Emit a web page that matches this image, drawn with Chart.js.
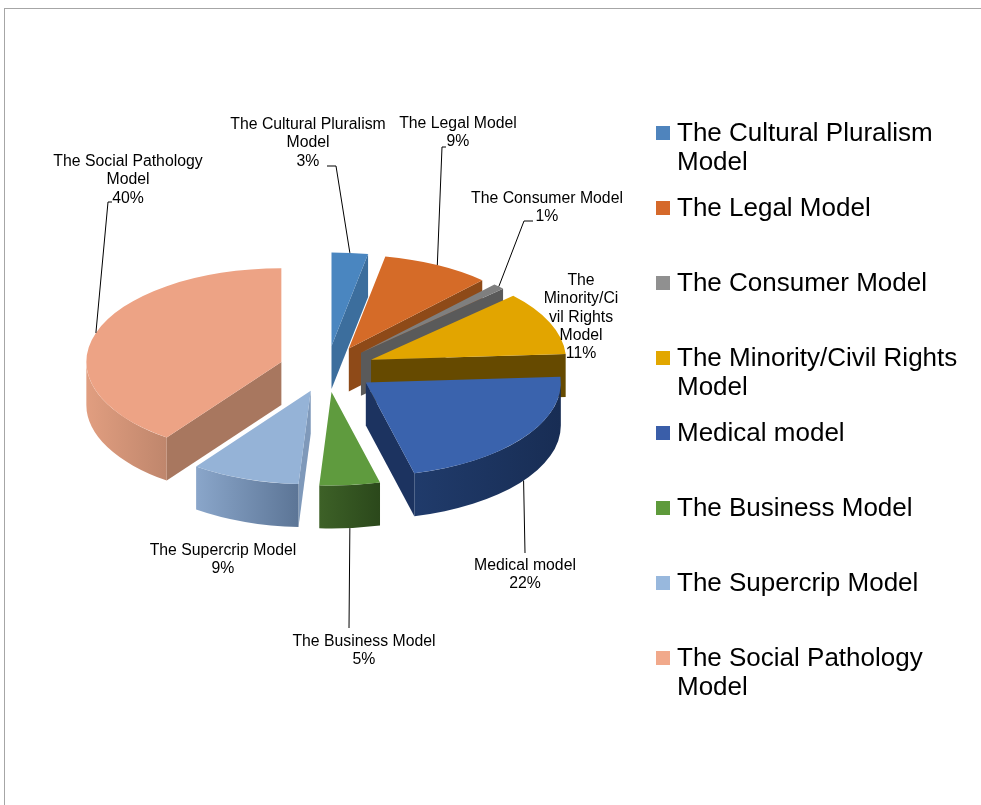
<!DOCTYPE html>
<html>
<head>
<meta charset="utf-8">
<script src="https://cdn.jsdelivr.net/npm/chart.js@4.4.1/dist/chart.umd.min.js"></script>
<style>
  html, body { margin: 0; padding: 0; background: #fff; overflow: hidden; }
  #wrap { position: relative; width: 981px; height: 805px; }
  #frame {
    position: absolute; left: 4px; top: 8px; width: 1000px; height: 820px;
    border: 1px solid #a6a6a6; box-sizing: border-box;
  }
  #pie { position: absolute; left: 0; top: 0; }
  #legend { position: absolute; left: 656px; top: 118px; font-family: "Liberation Sans", Arial, sans-serif; }
  .item { position: absolute; left: 0; width: 330px; height: 75px; }
  .swatch { position: absolute; left: 0; top: 8px; width: 14px; height: 14px; }
  .text { position: absolute; left: 21px; top: 0; width: 300px; font-size: 26px; line-height: 29px; color: #000; }
</style>
</head>
<body>
<div id="wrap">
  <div id="frame"></div>
  <canvas id="pie" width="981" height="805"></canvas>
  <div id="legend"></div>
</div>
<script>
// categories and their shares (percent)
const categories = [
  "The Cultural Pluralism Model",
  "The Legal Model",
  "The Consumer Model",
  "The Minority/Civil Rights Model",
  "Medical model",
  "The Business Model",
  "The Supercrip Model",
  "The Social Pathology Model",
];
const shares = [3, 9, 1, 11, 22, 5, 9, 40];

// colours: top face, outer wall (light -> dark), cut face, legend swatch
const topColors = ["#4a86c0", "#d56b28", "#7f7f7f", "#e2a500", "#3a63ad", "#5f9b3e", "#95b3d7", "#eda385"];
const wallLight = ["#3a6c9c", "#9a5220", "#5f5f5f", "#6e5000", "#203b6b", "#3d6127", "#8aa6ca", "#e19e80"];
const wallDark  = ["#2f5a85", "#7e4116", "#4d4d4d", "#5a4100", "#182d54", "#2b481b", "#5c7596", "#bf866c"];
const cutColors = ["#3c6e9d", "#8e4a18", "#5a5a5a", "#664a00", "#1c3360", "#355722", "#7f99ba", "#a8775f"];
const legendColors = ["#4f84bd", "#d5692b", "#909090", "#e2a700", "#3a5ea9", "#5e9a3b", "#98b8dd", "#f1a98b"];

// label placement: text centre x, first baseline y, wrap width, leader points (text side)
const labelLayout = [
  { x: 308, y: 129, w: 160, leader: [[327, 166], [336, 166]] },
  { x: 458, y: 128, w: 160, leader: [[446, 147], [442, 147]] },
  { x: 547, y: 203, w: 160, leader: [[533, 221], [524, 221]] },
  { x: 581, y: 285, w: 78, leader: null },
  { x: 525, y: 570, w: 160, leader: [[525, 553]] },
  { x: 364, y: 646, w: 160, leader: [[349, 628]] },
  { x: 223, y: 555, w: 160, leader: null },
  { x: 128, y: 166, w: 160, leader: [[112, 202], [108, 202]] },
];

const TILT = 0.48;
const DEPTH = 43;
const EXPLODE = 48;
const LABEL_FONT = "15.8px 'Liberation Sans', Arial, sans-serif";
const LINE_H = 18.3;

function sliceGeom(arc) {
  const mid = (arc.startAngle + arc.endAngle) / 2;
  return {
    x: arc.x + Math.cos(mid) * EXPLODE,
    y: arc.y + Math.sin(mid) * EXPLODE * TILT,
    r: arc.outerRadius,
    a0: arc.startAngle,
    a1: arc.endAngle,
    mid,
  };
}

function proj(g, ang, dy) {
  return [g.x + g.r * Math.cos(ang), g.y + g.r * Math.sin(ang) * TILT + (dy || 0)];
}

function cutFace(ctx, g, ang, color) {
  const p = proj(g, ang);
  ctx.beginPath();
  ctx.moveTo(g.x, g.y);
  ctx.lineTo(p[0], p[1]);
  ctx.lineTo(p[0], p[1] + DEPTH);
  ctx.lineTo(g.x, g.y + DEPTH);
  ctx.closePath();
  ctx.fillStyle = color;
  ctx.fill();
}

function outerWall(ctx, g, i) {
  const a = Math.max(g.a0, 0);
  const b = Math.min(g.a1, Math.PI);
  if (b <= a) return;
  const pa = proj(g, a);
  const pb = proj(g, b);
  const left = Math.min(pa[0], pb[0]);
  const right = Math.max(pa[0], pb[0]);
  const grad = ctx.createLinearGradient(left, 0, right, 0);
  grad.addColorStop(0, wallLight[i]);
  grad.addColorStop(1, wallDark[i]);
  ctx.beginPath();
  ctx.ellipse(g.x, g.y, g.r, g.r * TILT, 0, a, b, false);
  ctx.ellipse(g.x, g.y + DEPTH, g.r, g.r * TILT, 0, b, a, true);
  ctx.closePath();
  ctx.fillStyle = grad;
  ctx.fill();
}

const pie3dPlugin = {
  id: "pie3d",
  beforeDatasetsDraw(chart) {
    const ctx = chart.ctx;
    const arcs = chart.getDatasetMeta(0).data;
    const order = arcs.map((arc, i) => i).sort((p, q) => {
      const mp = (arcs[p].startAngle + arcs[p].endAngle) / 2;
      const mq = (arcs[q].startAngle + arcs[q].endAngle) / 2;
      return Math.sin(mp) - Math.sin(mq);
    });
    order.forEach((i) => {
      const arc = arcs[i];
      const g = sliceGeom(arc);
      if (Math.cos(g.a0) < 0) cutFace(ctx, g, g.a0, cutColors[i]);
      if (Math.cos(g.a1) > 0) cutFace(ctx, g, g.a1, cutColors[i]);
      outerWall(ctx, g, i);
      // top face drawn by the arc element itself, squashed into an ellipse
      ctx.save();
      ctx.translate(arc.x, arc.y);
      ctx.scale(1, TILT);
      ctx.translate(-arc.x, -arc.y);
      ctx.translate(Math.cos(g.mid) * EXPLODE, Math.sin(g.mid) * EXPLODE);
      arc.draw(ctx);
      ctx.restore();
    });
    return false;
  },
};

function wrapText(ctx, text, maxW) {
  const words = text.split(" ");
  const lines = [];
  let cur = "";
  for (const w of words) {
    const test = cur ? cur + " " + w : w;
    if (ctx.measureText(test).width <= maxW) {
      cur = test;
      continue;
    }
    if (cur) lines.push(cur);
    let word = w;
    while (ctx.measureText(word).width > maxW) {
      let n = word.length;
      while (n > 1 && ctx.measureText(word.slice(0, n)).width > maxW) n--;
      lines.push(word.slice(0, n));
      word = word.slice(n);
    }
    cur = word;
  }
  if (cur) lines.push(cur);
  return lines;
}

const sliceLabelsPlugin = {
  id: "sliceLabels",
  afterDraw(chart) {
    const ctx = chart.ctx;
    const arcs = chart.getDatasetMeta(0).data;
    const values = chart.data.datasets[0].data;
    const total = values.reduce((s, v) => s + v, 0);
    ctx.save();
    ctx.font = LABEL_FONT;
    ctx.fillStyle = "#000";
    ctx.strokeStyle = "#000";
    ctx.lineWidth = 1;
    ctx.textAlign = "center";
    ctx.textBaseline = "alphabetic";
    arcs.forEach((arc, i) => {
      const lay = labelLayout[i];
      const g = sliceGeom(arc);
      if (lay.leader) {
        const anchor = proj(g, g.mid, Math.sin(g.mid) > 0 ? DEPTH : 0);
        ctx.beginPath();
        ctx.moveTo(lay.leader[0][0], lay.leader[0][1]);
        for (let k = 1; k < lay.leader.length; k++) ctx.lineTo(lay.leader[k][0], lay.leader[k][1]);
        ctx.lineTo(anchor[0], anchor[1]);
        ctx.stroke();
      }
      const lines = wrapText(ctx, chart.data.labels[i], lay.w);
      lines.push(Math.round((values[i] / total) * 100) + "%");
      lines.forEach((line, k) => ctx.fillText(line, lay.x, lay.y + k * LINE_H));
    });
    ctx.restore();
  },
};

function buildLegend(chart) {
  const box = document.getElementById("legend");
  box.innerHTML = "";
  chart.data.labels.forEach((label, i) => {
    const item = document.createElement("div");
    item.className = "item";
    item.style.top = i * 75 + "px";
    const sw = document.createElement("div");
    sw.className = "swatch";
    sw.style.background = legendColors[i];
    const txt = document.createElement("div");
    txt.className = "text";
    txt.textContent = label;
    item.appendChild(sw);
    item.appendChild(txt);
    box.appendChild(item);
  });
}

const chart = new Chart(document.getElementById("pie"), {
  type: "pie",
  data: {
    labels: categories,
    datasets: [
      {
        data: shares,
        backgroundColor: topColors,
        borderWidth: 0,
        offset: 0,
      },
    ],
  },
  plugins: [pie3dPlugin, sliceLabelsPlugin],
  options: {
    responsive: false,
    animation: false,
    events: [],
    radius: 195,
    layout: { padding: { left: 27, right: 354, top: 69, bottom: 136 } },
    plugins: {
      legend: { display: false },
      tooltip: { enabled: false },
    },
  },
});

buildLegend(chart);
</script>
</body>
</html>
